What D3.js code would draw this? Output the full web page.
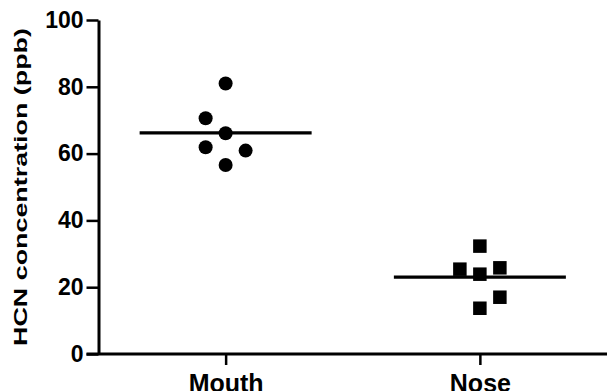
<!DOCTYPE html>
<html>
<head>
<meta charset="utf-8">
<script src="https://cdn.jsdelivr.net/npm/d3@7"></script>
<style>
  html, body { margin: 0; padding: 0; background: #fff; }
  svg { display: block; }
  text { font-family: "Liberation Sans", Arial, Helvetica, sans-serif; fill: #000; }
</style>
</head>
<body>
<svg id="chart" width="608" height="391"></svg>
<script>
// HCN concentration in exhaled breath, by sampling route
const categories = ["Mouth", "Nose"];
const mouthValues = [81.0, 70.6, 66.1, 61.9, 60.9, 56.6];
const noseValues  = [32.3, 25.4, 23.9, 25.8, 17.0, 13.7];
// scatter column for each point (-1 left, 0 centre, 1 right) to keep markers apart
const mouthColumn = [0, -1, 0, -1, 1, 0];
const noseColumn  = [0, -1, 0, 1, 1, 0];
const yTicks = [0, 20, 40, 60, 80, 100];
const yTitle = "HCN concentration (ppb)";

const groups = [
  { name: categories[0], values: mouthValues, cols: mouthColumn, shape: "circle" },
  { name: categories[1], values: noseValues,  cols: noseColumn,  shape: "square" }
];

const svg = d3.select("#chart");
const plotLeft = 98.5, plotRight = 607, plotTop = 20, plotBottom = 354;

const x = d3.scalePoint().domain(categories).range([plotLeft, plotRight]).padding(0.5);
const y = d3.scaleLinear().domain([0, 100]).range([plotBottom, plotTop]);
const spread = 20;      // horizontal offset of one scatter column
const meanHalf = 86;    // half width of the mean line

// y axis
const yAxis = svg.append("g")
  .attr("transform", `translate(${plotLeft},0)`)
  .call(d3.axisLeft(y).tickValues(yTicks).tickSize(12).tickPadding(3).tickSizeOuter(0));
yAxis.select(".domain").attr("stroke", "#000").attr("stroke-width", 3);
yAxis.selectAll(".tick line").attr("stroke", "#000").attr("stroke-width", 2.5);
yAxis.selectAll(".tick text")
  .style("font-size", "23px").style("font-weight", "bold")
  .attr("fill", "#000").attr("font-family", null);

// x axis
const xAxis = svg.append("g")
  .attr("transform", `translate(0,${plotBottom})`)
  .call(d3.axisBottom(x).tickSize(11).tickPadding(9).tickSizeOuter(0));
xAxis.select(".domain").attr("stroke", "#000").attr("stroke-width", 3)
  .attr("d", `M${plotLeft - 12},0H${plotRight}`);
xAxis.selectAll(".tick line").attr("stroke", "#000").attr("stroke-width", 2.5);
xAxis.selectAll(".tick text")
  .style("font-size", "25px").style("font-weight", "bold")
  .attr("fill", "#000").attr("font-family", null)
  .attr("dy", "0.71em");

// y axis title
svg.append("text")
  .attr("transform", `translate(27,${(plotTop + plotBottom) / 2}) rotate(-90)`)
  .attr("text-anchor", "middle")
  .attr("textLength", 318)
  .attr("lengthAdjust", "spacingAndGlyphs")
  .style("font-size", "19px").style("font-weight", "bold")
  .text(yTitle);

// mean lines
svg.append("g").selectAll("line")
  .data(groups)
  .join("line")
  .attr("x1", d => x(d.name) - meanHalf)
  .attr("x2", d => x(d.name) + meanHalf)
  .attr("y1", d => y(d3.mean(d.values)))
  .attr("y2", d => y(d3.mean(d.values)))
  .attr("stroke", "#000").attr("stroke-width", 3.2);

// individual measurements
groups.forEach(g => {
  const pts = g.values.map((v, i) => ({ v, cx: x(g.name) + g.cols[i] * spread, cy: y(v) }));
  const layer = svg.append("g");
  if (g.shape === "circle") {
    layer.selectAll("circle").data(pts).join("circle")
      .attr("cx", d => d.cx).attr("cy", d => d.cy).attr("r", 7)
      .attr("fill", "#000");
  } else {
    const s = 13.5;
    layer.selectAll("rect").data(pts).join("rect")
      .attr("x", d => d.cx - s / 2).attr("y", d => d.cy - s / 2)
      .attr("width", s).attr("height", s)
      .attr("fill", "#000");
  }
});
</script>
</body>
</html>
